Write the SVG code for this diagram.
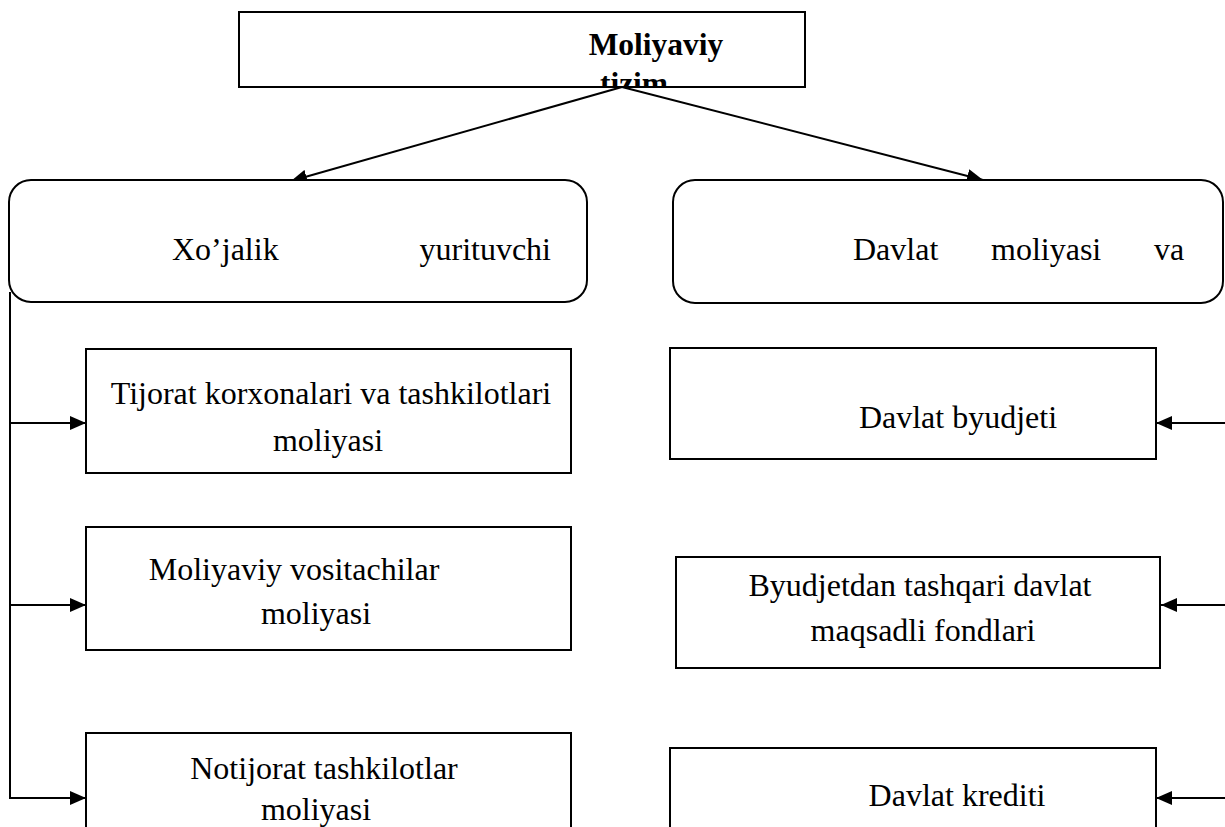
<svg xmlns="http://www.w3.org/2000/svg" width="1225" height="827" viewBox="0 0 1225 827">
<style>
.box{fill:#fff;stroke:#000;stroke-width:2}
.t{font-family:"Liberation Serif","Times New Roman",serif;font-size:32px;fill:#000}
.b{font-family:"Liberation Serif","Times New Roman",serif;font-size:31.5px;font-weight:bold;fill:#000}
.c{fill:none;stroke:#000;stroke-width:2}
</style>
<defs>
<marker id="ah" viewBox="0 0 16 14" refX="16" refY="7" markerWidth="16" markerHeight="14" markerUnits="userSpaceOnUse" orient="auto">
<path d="M0,0 L16,7 L0,14 Z" fill="#000"/>
</marker>
<clipPath id="topclip"><rect x="239" y="12" width="566" height="75"/></clipPath>
</defs>
<rect width="1225" height="827" fill="#fff"/>
<g id="root">
<rect class="box" x="239" y="12" width="566" height="75"/>
<g clip-path="url(#topclip)">
<text class="b" x="656" y="55" text-anchor="middle">Moliyaviy</text>
<text class="b" x="634" y="94" text-anchor="middle">tizim</text>
</g>
</g>
<g id="connectors">
<line class="c" x1="622" y1="87" x2="291" y2="181" marker-end="url(#ah)"/>
<line class="c" x1="622" y1="87" x2="983" y2="180" marker-end="url(#ah)"/>
<polyline class="c" points="10,292 10,798 86,798" marker-end="url(#ah)"/>
<line class="c" x1="10" y1="423" x2="86" y2="423" marker-end="url(#ah)"/>
<line class="c" x1="10" y1="605" x2="86" y2="605" marker-end="url(#ah)"/>
<line class="c" x1="1226" y1="423" x2="1156" y2="423" marker-end="url(#ah)"/>
<line class="c" x1="1226" y1="605" x2="1161" y2="605" marker-end="url(#ah)"/>
<line class="c" x1="1226" y1="798" x2="1156" y2="798" marker-end="url(#ah)"/>
</g>
<g id="xojalik">
<rect class="box" x="9" y="180" width="578" height="122" rx="22"/>
<text class="t" x="172" y="260">Xo’jalik</text>
<text class="t" x="551" y="260" text-anchor="end">yurituvchi</text>
</g>
<g id="davlat">
<rect class="box" x="673" y="180" width="550" height="123" rx="22"/>
<text class="t" x="853" y="260">Davlat</text>
<text class="t" x="991" y="260">moliyasi</text>
<text class="t" x="1154" y="260">va</text>
</g>
<g id="tijorat">
<rect class="box" x="86" y="349" width="485" height="124"/>
<text class="t" x="331" y="404" text-anchor="middle">Tijorat korxonalari va tashkilotlari</text>
<text class="t" x="328" y="451" text-anchor="middle">moliyasi</text>
</g>
<g id="vositachilar">
<rect class="box" x="86" y="527" width="485" height="123"/>
<text class="t" x="294" y="580" text-anchor="middle">Moliyaviy vositachilar</text>
<text class="t" x="316" y="624" text-anchor="middle">moliyasi</text>
</g>
<g id="notijorat">
<rect class="box" x="86" y="733" width="485" height="110"/>
<text class="t" x="324" y="779" text-anchor="middle">Notijorat tashkilotlar</text>
<text class="t" x="316" y="820" text-anchor="middle">moliyasi</text>
</g>
<g id="byudjet">
<rect class="box" x="670" y="348" width="486" height="111"/>
<text class="t" x="958" y="428" text-anchor="middle">Davlat byudjeti</text>
</g>
<g id="fondlar">
<rect class="box" x="676" y="557" width="484" height="111"/>
<text class="t" x="920" y="596" text-anchor="middle">Byudjetdan tashqari davlat</text>
<text class="t" x="923" y="641" text-anchor="middle">maqsadli fondlari</text>
</g>
<g id="kredit">
<rect class="box" x="670" y="748" width="486" height="100"/>
<text class="t" x="957" y="806" text-anchor="middle">Davlat krediti</text>
</g>
</svg>
